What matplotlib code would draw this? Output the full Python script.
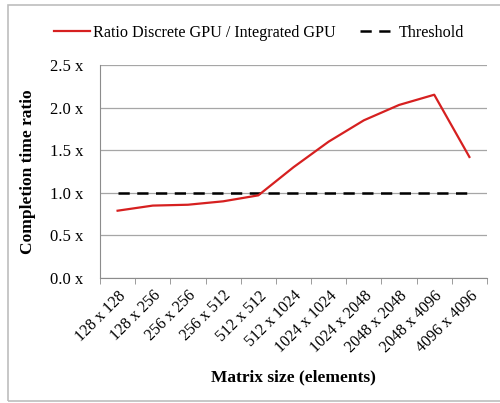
import matplotlib
matplotlib.use("Agg")
import matplotlib.pyplot as plt
from matplotlib.patches import Rectangle
import numpy as np

# ─── Data ─────────────────────────────────────────────────────────────

sizes = ["128 x 128", "128 x 256", "256 x 256", "256 x 512", "512 x 512",
         "512 x 1024", "1024 x 1024", "1024 x 2048", "2048 x 2048",
         "2048 x 4096", "4096 x 4096"]
ratio = [0.79, 0.85, 0.86, 0.90, 0.97, 1.30, 1.60, 1.85, 2.03, 2.15, 1.42]
threshold = [1.0] * len(sizes)
yticks = [0.0, 0.5, 1.0, 1.5, 2.0, 2.5]

plt.rcParams["font.family"] = ["Liberation Serif", "DejaVu Serif"]

fig = plt.figure(figsize=(5.0, 4.03), dpi=100)
ax = fig.add_axes([0.2, 0.31, 0.774, 0.529])

# outer frame
fig.patches.append(Rectangle((0.016, 0.005), 1.2, 0.982, transform=fig.transFigure,
                             fill=False, edgecolor="#bdbdbd", linewidth=1.2))

x = np.arange(len(sizes))
ax.plot(x, ratio, color="#d62020", linewidth=1.6, label="Ratio Discrete GPU / Integrated GPU", zorder=3)
ax.plot(x, threshold, color="black", linewidth=1.8, linestyle=(0, (4.5, 3)), label="Threshold", zorder=2)

ax.set_xlim(-0.5, len(sizes) - 0.5)
ax.set_ylim(0, 2.5)
ax.set_yticks(yticks)
ax.set_yticklabels([f"{v:.1f} x" for v in yticks], fontsize=12)
ax.yaxis.grid(True, color="#a6a6a6", linewidth=0.9)
ax.set_axisbelow(True)
ax.tick_params(axis="y", length=0, pad=12)

ax.set_xticks(x)
ax.set_xticklabels(sizes, rotation=45, ha="right", rotation_mode="anchor", fontsize=11.5)
ax.tick_params(axis="x", length=0, pad=7)
ax.set_xticks(np.arange(-0.5, len(sizes)), minor=True)
ax.tick_params(axis="x", which="minor", length=4, color="#8c8c8c", direction="out")

for s in ["top", "right"]:
    ax.spines[s].set_visible(False)
ax.spines["left"].set_color("#8c8c8c")
ax.spines["bottom"].set_color("#8c8c8c")

ax.set_ylabel("Completion time ratio", fontsize=12.5, fontweight="bold", labelpad=10)
ax.set_xlabel("Matrix size (elements)", fontsize=12.5, fontweight="bold", labelpad=10)

fig.legend(loc="center", bbox_to_anchor=(0.518, 0.918), ncol=2, frameon=False,
           fontsize=11.6, handlelength=2.2, handletextpad=0.2, columnspacing=1.5)

fig.savefig("out.png", dpi=100)
